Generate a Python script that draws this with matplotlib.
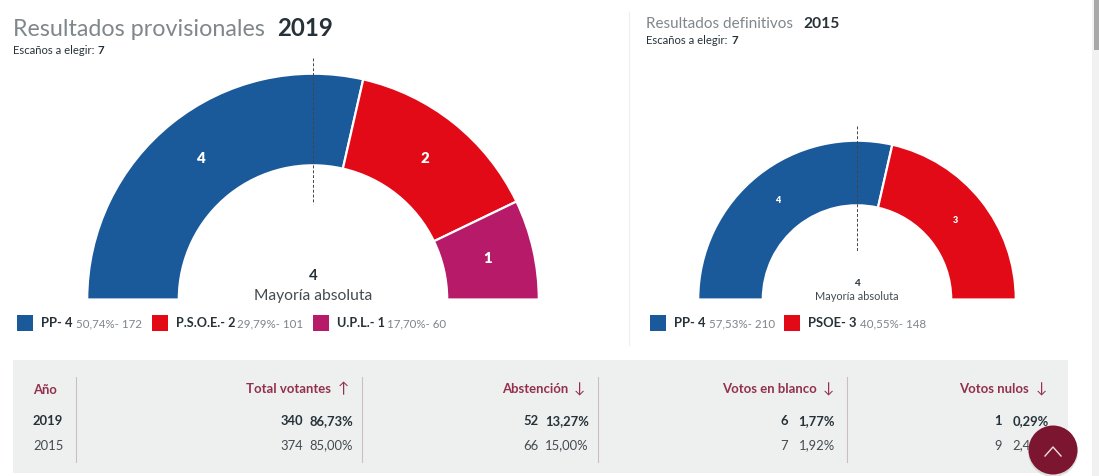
import numpy as np
import matplotlib
matplotlib.use('Agg')
import matplotlib.pyplot as plt
from matplotlib.patches import Wedge, Rectangle, Circle

# Seats per party
seats_2019 = [4, 2, 1]
seats_2015 = [4, 3]
seat_labels_2019 = ['4', '2', '1']
seat_labels_2015 = ['4', '3']
colors_2019 = ['#1a5a9a', '#e30a17', '#b61a68']
colors_2015 = ['#1a5a9a', '#e30a17']

legend_2019 = [('PP- 4', '50,74%- 172'), ('P.S.O.E.- 2', '29,79%- 101'), ('U.P.L.- 1', '17,70%- 60')]
legend_2015 = [('PP- 4', '57,53%- 210'), ('PSOE- 3', '40,55%- 148')]

# Turnout table
table_headers = ['Total votantes', 'Abstención', 'Votos en blanco', 'Votos nulos']
table_arrows = ['↑', '↓', '↓', '↓']
years = ['2019', '2015']
counts_2019 = ['340', '52', '6', '1']
pcts_2019 = ['86,73%', '13,27%', '1,77%', '0,29%']
counts_2015 = ['374', '66', '7', '9']
pcts_2015 = ['85,00%', '15,00%', '1,92%', '2,41%']

DARK = '#263238'
GREY = '#7d8488'
MAROON = '#93304c'
FONT = ['Lato', 'DejaVu Sans']

W, H = 1099, 476
fig = plt.figure(figsize=(W / 100, H / 100), dpi=100)
ax = fig.add_axes([0, 0, 1, 1])
ax.set_xlim(0, W)
ax.set_ylim(0, H)
ax.axis('off')


# pixel helpers, y measured from the top of the picture
def Y(py):
    return H - py


def txt(x, py, s, size, color=DARK, weight='normal', ha='left', z=5):
    return ax.text(x, Y(py), s, fontsize=size * 0.72, color=color, fontweight=weight,
                   ha=ha, va='center', family=FONT, zorder=z)


def hemicycle(cx, py, r_out, r_in, seats, colors, labels, label_size):
    total = sum(seats)
    start = 180.0
    for n, c, lab in zip(seats, colors, labels):
        end = start - 180.0 * n / total
        # the white edge eats into the wedge, so draw it a little oversized
        ax.add_patch(Wedge((cx, Y(py)), r_out + 0.8, end, start, width=r_out - r_in + 1.6,
                           facecolor=c, edgecolor='white', linewidth=1.6))
        mid = np.radians((start + end) / 2)
        rm = (r_out + r_in) / 2
        ax.text(cx + rm * np.cos(mid) - 0.5, Y(py) + rm * np.sin(mid) + 0.5, lab, color='white',
                fontsize=label_size * 0.72, fontweight='heavy', ha='center', va='center',
                family=FONT, zorder=6)
        start = end


# Page furniture
ax.add_patch(Rectangle((1092, 0), 7, H, facecolor='#f1f1f1', edgecolor='none'))
ax.add_patch(Rectangle((1094, Y(50)), 5, 50, facecolor='#a8a8a8', edgecolor='none'))
ax.plot([629, 629], [Y(12), Y(345)], color='#eeeeee', lw=0.8)

# 2019 panel, titles in plain Lato since the light face comes out too faint
txt(13, 29, 'Resultados provisionales', 23.2, color='#80878b')
txt(277, 28, '2019', 24, weight='bold')
txt(13, 51, 'Escaños a elegir:', 11.3)
txt(98, 51, '7', 11.5, weight='bold')
hemicycle(313, 299.5, 225, 135, seats_2019, colors_2019, seat_labels_2019, 15)
ax.plot([313, 313], [Y(58), Y(204)], color='#444444', lw=0.7, ls=(0, (3, 2)), zorder=4)
txt(313, 276, '4', 15, weight='bold', ha='center')
txt(313, 296, 'Mayoría absoluta', 15.6, color='#444b50', ha='center')

for sx, tx, vx, c, (name, val), fs in zip([17, 152, 313], [41, 176, 337], [76, 237, 387],
                                          colors_2019, legend_2019, [13, 12.6, 12.6]):
    ax.add_patch(Rectangle((sx, Y(331)), 16, 16, facecolor=c, edgecolor='none'))
    txt(tx, 323, name, fs, weight='bold')
    txt(vx, 324, val, 11.5, color=GREY)

# 2015 panel
txt(646, 24, 'Resultados definitivos', 15.3, color='#80878b')
txt(803, 24, '2015', 15.5, weight='bold')
txt(646, 41, 'Escaños a elegir:', 11.3)
txt(731, 41, '7', 11.5, weight='bold')
hemicycle(857, 299.5, 158, 95, seats_2015, colors_2015, seat_labels_2015, 9)
ax.plot([857, 857], [Y(126), Y(252)], color='#444444', lw=0.7, ls=(0, (3, 2)), zorder=4)
txt(857, 283.5, '4', 10, weight='bold', ha='center')
txt(857, 296.5, 'Mayoría absoluta', 11, color='#444b50', ha='center')

for sx, tx, vx, c, (name, val) in zip([650, 784], [674, 808], [709, 860],
                                      colors_2015, legend_2015):
    ax.add_patch(Rectangle((sx, Y(331)), 16, 16, facecolor=c, edgecolor='none'))
    txt(tx, 323, name, 13, weight='bold')
    txt(vx, 324, val, 11.5, color=GREY)

# Table
ax.add_patch(Rectangle((13, Y(473)), 1055, 113, facecolor='#eef0f0', edgecolor='none'))
for sep in [76, 362, 598, 847]:
    ax.plot([sep, sep], [Y(377), Y(462)], color='#cdbcc1', lw=0.8, zorder=3)

txt(33, 390, 'Año', 13, color=MAROON, weight='bold')
txt(33, 421, years[0], 13, weight='bold')
txt(33, 445.5, years[1], 13, color='#444b50')

head_right = [331, 568, 817, 1029]
arrow_x = [343, 579, 828, 1041]
count_right = [303, 539, 788, 1002]
pct_right = [353, 589, 835, 1049]
for i, head in enumerate(table_headers):
    txt(head_right[i], 389, head, 13.1, color=MAROON, weight='bold', ha='right')
    txt(arrow_x[i], 389, table_arrows[i], 15, color=MAROON, ha='center')
    txt(count_right[i], 421, counts_2019[i], 13, weight='bold', ha='right')
    txt(pct_right[i], 421, pcts_2019[i], 13, weight='bold', ha='right')
    txt(count_right[i], 445.5, counts_2015[i], 13, color='#444b50', ha='right')
    txt(pct_right[i], 445.5, pcts_2015[i], 13, color='#444b50', ha='right')

# Back-to-top button
ax.add_patch(Circle((1053, Y(452)), 25, facecolor='#c4c4c4', edgecolor='none', alpha=0.5, zorder=7))
ax.add_patch(Circle((1053, Y(450)), 24.5, facecolor='#7b1530', edgecolor='none', zorder=8))
ax.plot([1045, 1053, 1061], [Y(456), Y(447), Y(456)], color='#f0dfe3', lw=1, zorder=9)

fig.savefig('out.png', dpi=100)
